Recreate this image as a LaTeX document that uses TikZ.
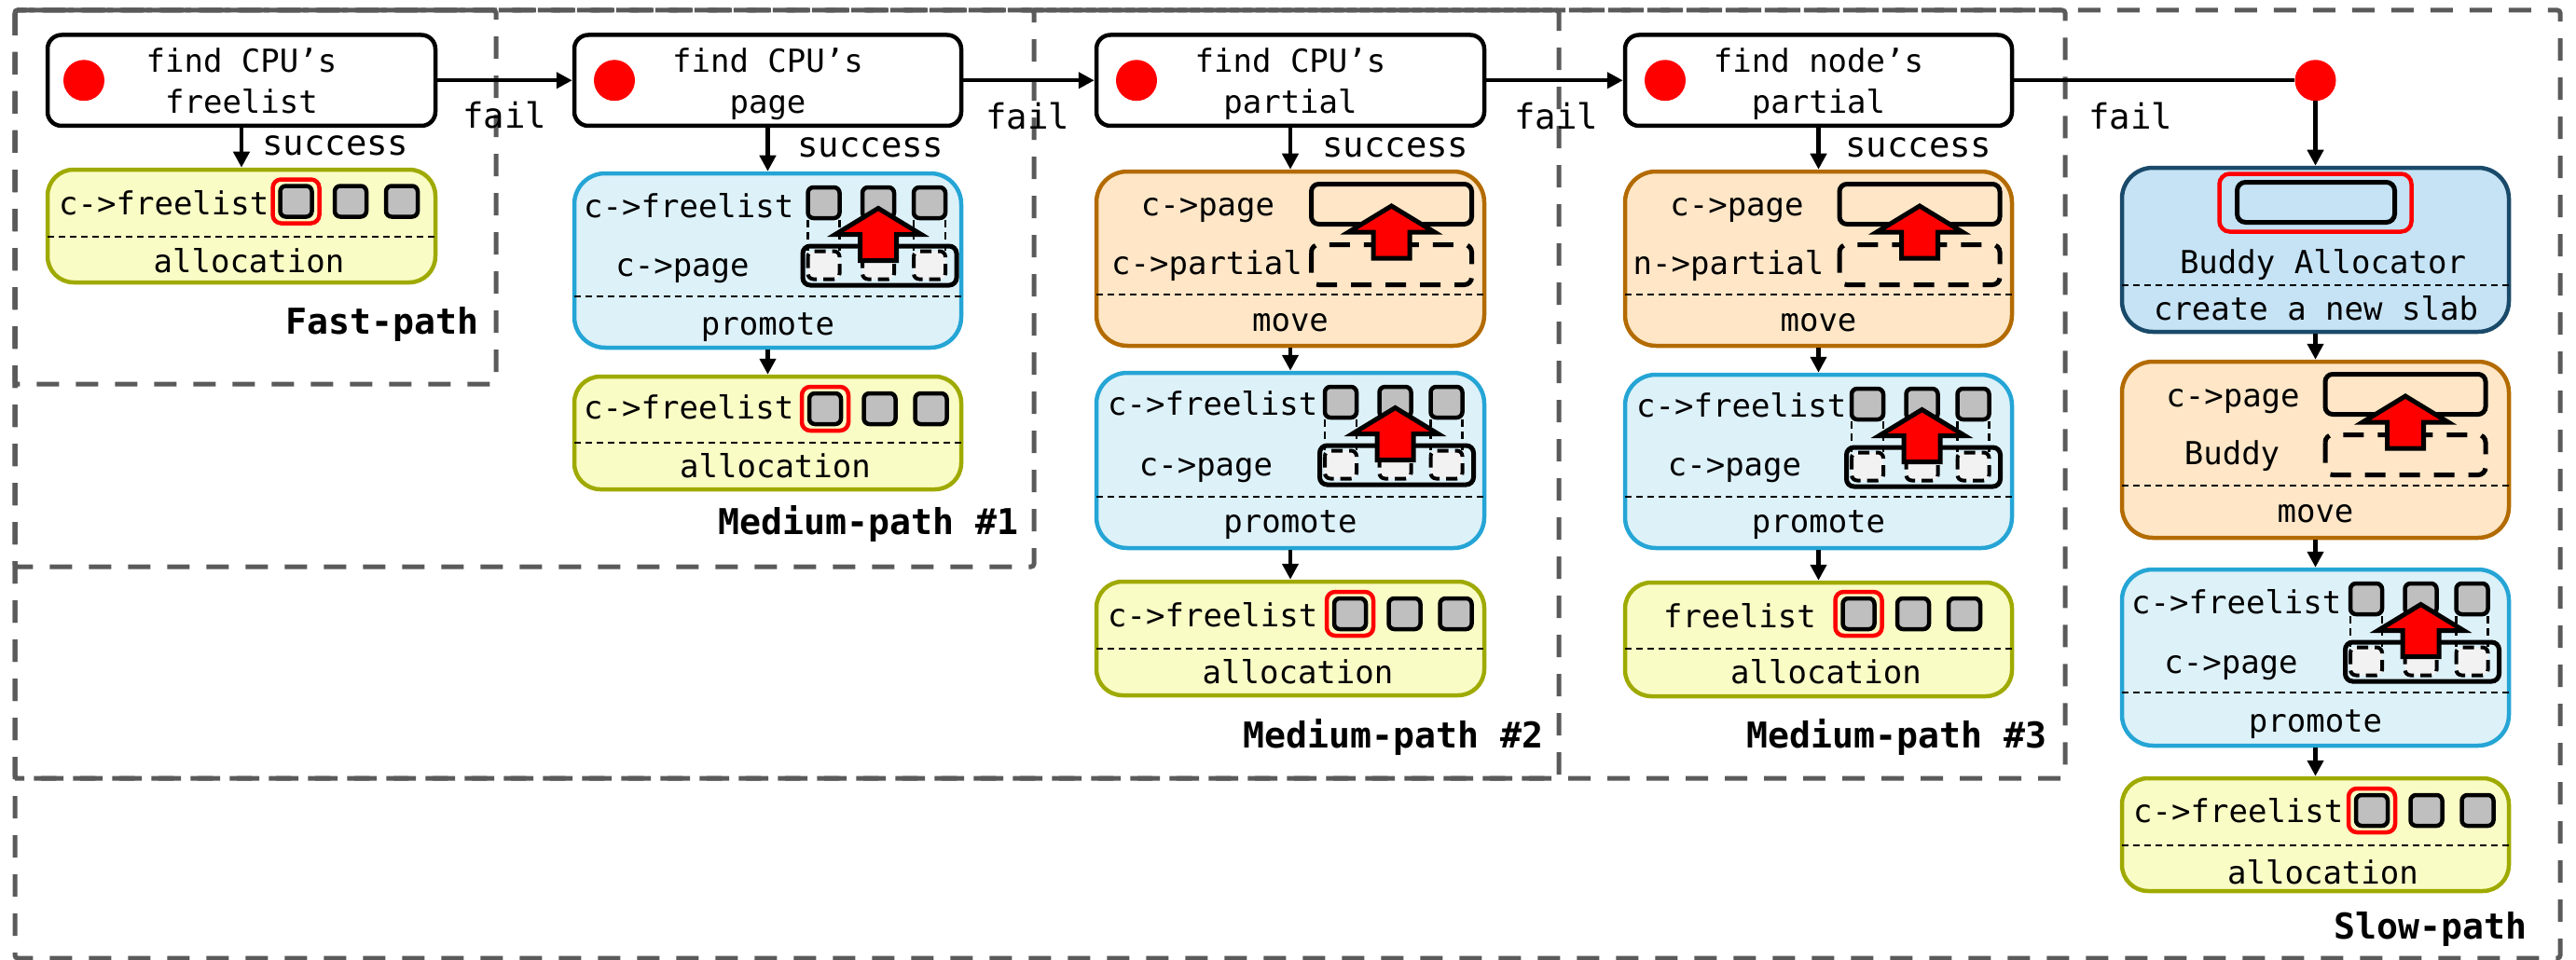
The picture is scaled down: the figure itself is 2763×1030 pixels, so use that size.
\documentclass[tikz,border=0pt]{standalone}
\usepackage{fontspec}
\newfontfamily\codefont{DejaVu Sans Mono}
\usetikzlibrary{arrows.meta}

\definecolor{regiongray}{HTML}{5A5A5A}
\definecolor{allocfill}{HTML}{FAFCC6}
\definecolor{allocline}{HTML}{9FAA00}
\definecolor{promofill}{HTML}{DDF1F9}
\definecolor{promoline}{HTML}{25A5D5}
\definecolor{movefill}{HTML}{FEE6C7}
\definecolor{moveline}{HTML}{B36B00}
\definecolor{buddyfill}{HTML}{C5E3F5}
\definecolor{buddyline}{HTML}{1A4A6A}
\definecolor{slotgray}{HTML}{BFBFBF}
\definecolor{ghostgray}{HTML}{F2F2F2}

% panel node: style, name, left, top, right, bottom
\newcommand\panel[6]{\node[#1, minimum width={#5-#3}, minimum height={#6-#4}] (#2) at ({(#3+#5)/2},{(#4+#6)/2}) {};}
% three object slots: first slot centre x, row centre y
\newcommand\slots[2]{\foreach \dx in {0,58.5,113.5}{\draw[slot] ({#1+\dx-17},{#2-16.5}) rectangle ({#1+\dx+17},{#2+16.5});}}
% red frame round the object handed out
\newcommand\pick[2]{\draw[pickframe] ({#1-25},{#2-23.5}) rectangle ({#1+25},{#2+23.5});}
% big red arrow pointing up: tip x, tip y
\newcommand\liftarrow[2]{\draw[bigarrow] ({#1},{#2}) -- ({#1+46},{#2+28}) -- ({#1+19.5},{#2+28}) -- ({#1+19.5},{#2+56}) -- ({#1-19.5},{#2+56}) -- ({#1-19.5},{#2+28}) -- ({#1-46},{#2+28}) -- cycle;}
% page objects lifted to the freelist: first slot centre x, panel top
\newcommand\promoteicon[2]{%
  \foreach \dx in {0,58.5,113.5}{%
    \draw[guide] ({#1+\dx-17},{#2+52}) -- ({#1+\dx-17},{#2+85});
    \draw[guide] ({#1+\dx+17},{#2+52}) -- ({#1+\dx+17},{#2+85});
    \draw[ghost] ({#1+\dx-17},{#2+85.5}) rectangle ({#1+\dx+17},{#2+115.5});
  }
  \draw[pagebox] ({#1-22.5},{#2+80}) rectangle ({#1+142.5},{#2+122});
  \slots{#1}{#2+33.5}
  \liftarrow{#1+58.5}{#2+39.5}}
% slab moved up into c->page: centre x, panel top
\newcommand\moveicon[2]{%
  \draw[pagebox] ({#1-86},{#2+15.5}) rectangle ({#1+86},{#2+58.5});
  \draw[partialbox] ({#1-86},{#2+80.5}) rectangle ({#1+86},{#2+123.5});
  \liftarrow{#1}{#2+39}}

\begin{document}
\begin{tikzpicture}[x=1pt,y=-1pt,
  findbox/.style={draw=black, fill=white, line width=4.5pt, rounded corners=15pt, inner sep=0pt},
  allocbox/.style={draw=allocline, fill=allocfill, line width=4.5pt, rounded corners=28pt, inner sep=0pt},
  promobox/.style={draw=promoline, fill=promofill, line width=4.5pt, rounded corners=33pt, inner sep=0pt},
  movebox/.style={draw=moveline, fill=movefill, line width=4.5pt, rounded corners=33pt, inner sep=0pt},
  buddybox/.style={draw=buddyline, fill=buddyfill, line width=4.5pt, rounded corners=33pt, inner sep=0pt},
  dot/.style={circle, fill=red, minimum size=44pt, inner sep=0pt},
  txt/.style={font=\codefont\fontsize{34}{40}\selectfont, inner sep=0pt},
  lab/.style={font=\codefont\fontsize{37.3}{40}\selectfont, inner sep=0pt, anchor=base west},
  pathlabel/.style={font=\codefont\bfseries\fontsize{38.2}{40}\selectfont, inner sep=0pt, anchor=base east},
  region/.style={draw=regiongray, line width=5pt, dash pattern=on 24pt off 18pt, rounded corners=3pt},
  divider/.style={draw=black, line width=2.2pt, dash pattern=on 7pt off 5pt},
  arr/.style={draw=black, line width=4.5pt, -{Triangle[length=17pt,width=17pt]}},
  link/.style={draw=black, line width=4.5pt},
  slot/.style={draw=black, fill=slotgray, line width=4.5pt, rounded corners=6pt},
  pickframe/.style={draw=red, line width=4.5pt, rounded corners=9pt},
  ghost/.style={draw=black, fill=ghostgray, line width=4pt, dash pattern=on 12pt off 7pt, rounded corners=6pt},
  guide/.style={draw=black, line width=2.2pt, dash pattern=on 8pt off 5pt},
  pagebox/.style={draw=black, line width=5pt, rounded corners=8pt},
  partialbox/.style={draw=black, line width=5pt, dash pattern=on 22pt off 15pt, rounded corners=8pt},
  bigarrow/.style={draw=black, fill=red, line width=5pt, line join=miter},
]
\useasboundingbox (0,0) rectangle (2763,1030);

% ---- path regions ----
\draw[region] (16,11) rectangle (2746,1028);
\draw[region] (16,11) rectangle (532,412);
\draw[region] (16,11) rectangle (1109,608);
\draw[region] (16,11) rectangle (1672,835);
\draw[region] (1109,11) -- (2215,11) -- (2215,835) -- (16,835);

\node[pathlabel] (lfast) at (514,358) {Fast-path};
\node[pathlabel] (lmed1) at (1092.5,573) {Medium-path \#1};
\node[pathlabel] (lmed2) at (1656,802) {Medium-path \#2};
\node[pathlabel] (lmed3) at (2196,802) {Medium-path \#3};
\node[pathlabel] (lslow) at (2710.5,1007) {Slow-path};

% ---- lookup steps ----
\panel{findbox}{f1}{51}{37.5}{467}{135}
\panel{findbox}{f2}{616}{37.5}{1031}{135}
\panel{findbox}{f3}{1176}{37.5}{1592}{135}
\panel{findbox}{f4}{1743}{37.5}{2158}{135}
\node[dot] (d1) at (90,86.25) {};
\node[dot] (d2) at (659,86.25) {};
\node[dot] (d3) at (1219,86.25) {};
\node[dot] (d4) at (1786,86.25) {};
\node[dot] (s0) at (2483.5,86.25) {};

\node[txt, anchor=base] (f1a) at (259,77.5) {find CPU’s};
\node[txt, anchor=base] (f1b) at (259,122) {freelist};
\node[txt, anchor=base] (f2a) at (823.5,77.5) {find CPU’s};
\node[txt, anchor=base] (f2b) at (823.5,122) {page};
\node[txt, anchor=base] (f3a) at (1384,77.5) {find CPU’s};
\node[txt, anchor=base] (f3b) at (1384,122) {partial};
\node[txt, anchor=base] (f4a) at (1950.5,77.5) {find node’s};
\node[txt, anchor=base] (f4b) at (1950.5,122) {partial};

\node[lab] (fail1) at (496,138) {fail};
\node[lab] (fail2) at (1057,139) {fail};
\node[lab] (fail3) at (1624,139) {fail};
\node[lab] (fail4) at (2240,139) {fail};
\node[lab] (ok1) at (281,167) {success};
\node[lab] (ok2) at (855,168) {success};
\node[lab] (ok3) at (1418,168) {success};
\node[lab] (ok4) at (1979,168) {success};

% ---- action panels ----
\panel{allocbox}{a0}{51}{182}{467}{303}
\panel{promobox}{p1}{616}{186}{1031}{373}
\panel{allocbox}{a1}{616}{404}{1031}{525}
\panel{movebox}{m2}{1176}{184}{1592}{371}
\panel{promobox}{p2}{1176}{400}{1592}{588}
\panel{allocbox}{a2}{1176}{624}{1592}{746}
\panel{movebox}{m3}{1743}{184}{2158}{371}
\panel{promobox}{p3}{1743}{402}{2158}{588}
\panel{allocbox}{a3}{1743}{625}{2158}{747}
\panel{buddybox}{bd}{2276}{180}{2691}{356}
\panel{movebox}{m4}{2276}{388}{2691}{577}
\panel{promobox}{p4}{2276}{611}{2691}{800}
\panel{allocbox}{a4}{2276}{835}{2691}{956}

% dividers between picture and caption
\draw[divider] (51,254) -- (467,254);
\draw[divider] (616,318) -- (1031,318);
\draw[divider] (616,475) -- (1031,475);
\draw[divider] (1176,316) -- (1592,316);
\draw[divider] (1176,533) -- (1592,533);
\draw[divider] (1176,696) -- (1592,696);
\draw[divider] (1743,316) -- (2158,316);
\draw[divider] (1743,533) -- (2158,533);
\draw[divider] (1743,696) -- (2158,696);
\draw[divider] (2276,306) -- (2691,306);
\draw[divider] (2276,521) -- (2691,521);
\draw[divider] (2276,743) -- (2691,743);
\draw[divider] (2276,907) -- (2691,907);

% fast-path
\node[txt, anchor=base west] (a0t) at (63,230) {c->freelist};
\node[txt, anchor=base] (a0c) at (267,292) {allocation};
\slots{317.5}{216}
\pick{317.5}{216}

% medium-path #1
\node[txt, anchor=base west] (p1t) at (626,233) {c->freelist};
\node[txt, anchor=base] (p1u) at (732,296) {c->page};
\node[txt, anchor=base] (p1c) at (823.5,359) {promote};
\promoteicon{883.5}{184}
\node[txt, anchor=base west] (a1t) at (626,449) {c->freelist};
\node[txt, anchor=base] (a1c) at (831.5,512) {allocation};
\slots{885}{438.5}
\pick{885}{438.5}

% medium-path #2
\node[txt, anchor=base] (m2t) at (1295.5,231) {c->page};
\node[txt, anchor=base] (m2u) at (1294.5,294) {c->partial};
\node[txt, anchor=base] (m2c) at (1384,355) {move};
\moveicon{1492.5}{182}
\node[txt, anchor=base west] (p2t) at (1188,445) {c->freelist};
\node[txt, anchor=base] (p2u) at (1293.5,510) {c->page};
\node[txt, anchor=base] (p2c) at (1384,571) {promote};
\promoteicon{1438}{398}
\node[txt, anchor=base west] (a2t) at (1188,672) {c->freelist};
\node[txt, anchor=base] (a2c) at (1392,733) {allocation};
\slots{1448}{658.5}
\pick{1448}{658.5}

% medium-path #3
\node[txt, anchor=base] (m3t) at (1863,231) {c->page};
\node[txt, anchor=base] (m3u) at (1854,294) {n->partial};
\node[txt, anchor=base] (m3c) at (1950.5,355) {move};
\moveicon{2059}{182}
\node[txt, anchor=base west] (p3t) at (1755,447) {c->freelist};
\node[txt, anchor=base] (p3u) at (1860.5,510) {c->page};
\node[txt, anchor=base] (p3c) at (1950.5,571) {promote};
\promoteicon{2003}{400}
\node[txt, anchor=base] (a3t) at (1866,673) {freelist};
\node[txt, anchor=base] (a3c) at (1958.5,733) {allocation};
\slots{1993.5}{658.5}
\pick{1993.5}{658.5}

% slow-path
\draw[pickframe, rounded corners=11pt] (2380.5,186.5) rectangle (2586.5,248.5);
\draw[pagebox, rounded corners=9pt] (2399.5,195.5) rectangle (2568.5,238.5);
\node[txt, anchor=base] (bdt) at (2491.5,293) {Buddy Allocator};
\node[txt, anchor=base] (bdc) at (2484,343.5) {create a new slab};
\node[txt, anchor=base] (m4t) at (2395,436) {c->page};
\node[txt, anchor=base] (m4u) at (2394,498) {Buddy};
\node[txt, anchor=base] (m4c) at (2483.5,560) {move};
\moveicon{2580}{386}
\node[txt, anchor=base west] (p4t) at (2286,658) {c->freelist};
\node[txt, anchor=base] (p4u) at (2393,722) {c->page};
\node[txt, anchor=base] (p4c) at (2483.5,785) {promote};
\promoteicon{2538}{609}
\node[txt, anchor=base west] (a4t) at (2288,882) {c->freelist};
\node[txt, anchor=base] (a4c) at (2491.5,948) {allocation};
\slots{2544}{869.5}
\pick{2544}{869.5}

% ---- connectors ----
\draw[arr] (f1) -- (f2);
\draw[arr] (f2) -- (f3);
\draw[arr] (f3) -- (f4);
\draw[link] (f4) -- (s0);
\draw[arr] (f1) -- (a0);
\draw[arr] (f2) -- (p1);
\draw[arr] (p1) -- (a1);
\draw[arr] (f3) -- (m2);
\draw[arr] (m2) -- (p2);
\draw[arr] (p2) -- (a2);
\draw[arr] (f4) -- (m3);
\draw[arr] (m3) -- (p3);
\draw[arr] (p3) -- (a3);
\draw[arr] (s0) -- (bd);
\draw[arr] (bd) -- (m4);
\draw[arr] (m4) -- (p4);
\draw[arr] (p4) -- (a4);
\end{tikzpicture}
\end{document}
